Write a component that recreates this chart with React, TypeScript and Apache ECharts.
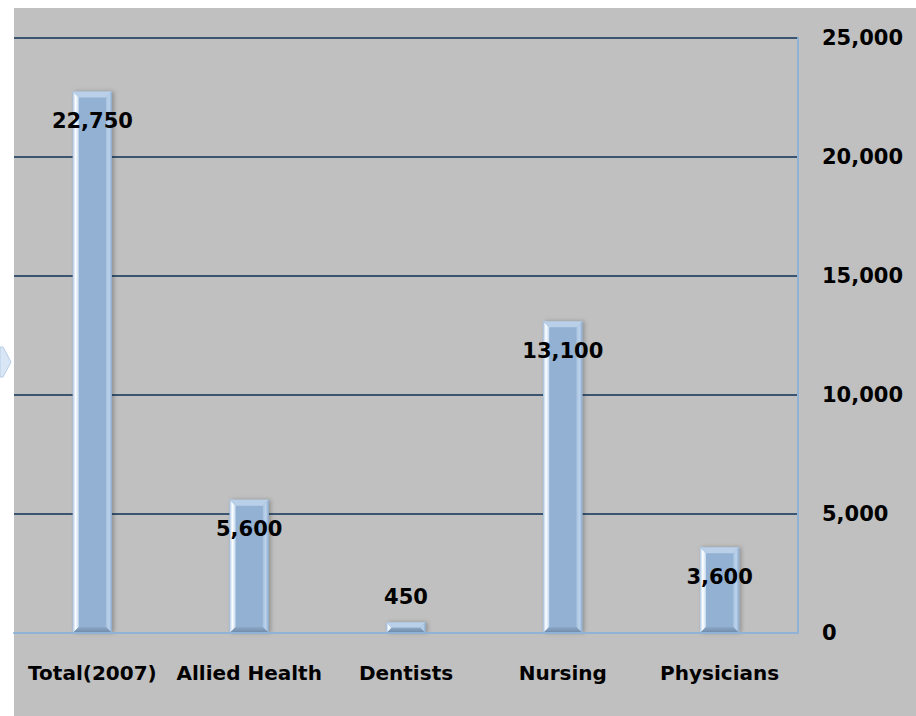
import React, { useEffect, useRef } from "react";
import * as echarts from "echarts";

// Workforce counts by profession
const categories = ["Total(2007)", "Allied Health", "Dentists", "Nursing", "Physicians"];
const values = [22750, 5600, 450, 13100, 3600];
const yTicks = { min: 0, max: 25000, interval: 5000 };

const FONT = "'DejaVu Sans', sans-serif";

const fmt = (v: number) => v.toLocaleString("en-US");

export default function App() {
  const ref = useRef<HTMLDivElement>(null);

  useEffect(() => {
    if (!ref.current) return;
    const chart = echarts.init(ref.current, null, { renderer: "svg" });

    const renderBevelBar = (params: any, api: any) => {
      const idx = api.value(0);
      const val = api.value(1);
      const top = api.coord([idx, val]);
      const base = api.coord([idx, 0]);
      const w = api.size([1, 0])[0] * 0.25;
      const x0 = top[0] - w / 2;
      const x1 = top[0] + w / 2;
      const y0 = top[1];
      const y1 = base[1];
      const h = y1 - y0;
      const b = Math.min(6, h / 2);
      const tall = h > 40;
      return {
        type: "group",
        children: [
          {
            type: "rect",
            shape: { x: x0, y: y0, width: w, height: h },
            style: {
              fill: "#93b1d3",
              shadowBlur: 4,
              shadowOffsetX: 2,
              shadowColor: "rgba(0,0,0,0.25)",
            },
            textContent: {
              style: {
                text: fmt(val),
                font: `bold 21px ${FONT}`,
                fill: "#000",
              },
            },
            textConfig: tall
              ? { position: "insideTop", distance: 19 }
              : { position: "top", distance: 15 },
          },
          {
            type: "polygon",
            shape: { points: [[x0, y0], [x0 + b, y0 + b], [x0 + b, y1 - b], [x0, y1]] },
            style: {
              fill: new echarts.graphic.LinearGradient(0, 0, 1, 0, [
                { offset: 0, color: "#aac6e6" },
                { offset: 0.45, color: "#ffffff" },
                { offset: 1, color: "#c4d9ef" },
              ]),
            },
          },
          {
            type: "polygon",
            shape: { points: [[x0, y0], [x1, y0], [x1 - b, y0 + b], [x0 + b, y0 + b]] },
            style: { fill: "#b9d0e8" },
          },
          {
            type: "polygon",
            shape: { points: [[x1, y0], [x1, y1], [x1 - b, y1 - b], [x1 - b, y0 + b]] },
            style: {
              fill: new echarts.graphic.LinearGradient(0, 0, 1, 0, [
                { offset: 0, color: "#a7c2df" },
                { offset: 0.5, color: "#bcd3ec" },
                { offset: 1, color: "#8ba9ca" },
              ]),
            },
          },
          {
            type: "polygon",
            shape: { points: [[x0, y1], [x1, y1], [x1 - b, y1 - b], [x0 + b, y1 - b]] },
            style: {
              fill: new echarts.graphic.LinearGradient(0, 0, 0, 1, [
                { offset: 0, color: "#8ea9c7" },
                { offset: 1, color: "#6c87a6" },
              ]),
            },
          },
        ],
      };
    };

    chart.setOption({
      animation: false,
      backgroundColor: "#ffffff",
      graphic: [
        {
          type: "rect",
          z: -10,
          shape: { x: 14, y: 8, width: 902, height: 708 },
          style: { fill: "#c0c0c0" },
        },
        {
          type: "polygon",
          shape: { points: [[0, 347], [3, 347], [11, 362], [3, 377], [0, 377]] },
          style: { fill: "#d9e6f5", stroke: "#b8cde6", lineWidth: 1 },
        },
      ],
      grid: { left: 14, right: 118, top: 38, bottom: 83 },
      xAxis: {
        type: "category",
        data: categories,
        axisLine: { show: true, lineStyle: { color: "#8fb2d6", width: 2 } },
        axisTick: { show: false },
        axisLabel: {
          interval: 0,
          color: "#000",
          fontFamily: FONT,
          fontWeight: "bold",
          fontSize: 20,
          margin: 30,
        },
        z: 5,
      },
      yAxis: {
        type: "value",
        position: "right",
        min: yTicks.min,
        max: yTicks.max,
        interval: yTicks.interval,
        axisLine: { show: true, lineStyle: { color: "#8fb2d6", width: 2 } },
        axisTick: { show: false },
        axisLabel: {
          color: "#000",
          fontFamily: FONT,
          fontWeight: "bold",
          fontSize: 21,
          margin: 24,
          formatter: (v: number) => fmt(v),
        },
        splitLine: { show: true, lineStyle: { color: "#3b5570", width: 2 } },
      },
      series: [
        {
          type: "custom",
          renderItem: renderBevelBar,
          data: values.map((v, i) => [i, v]),
          encode: { x: 0, y: 1 },
          z: 3,
        },
      ],
    });

    return () => chart.dispose();
  }, []);

  return (
    <div
      ref={ref}
      style={{ position: "fixed", left: 0, top: 0, width: 916, height: 716 }}
    />
  );
}
